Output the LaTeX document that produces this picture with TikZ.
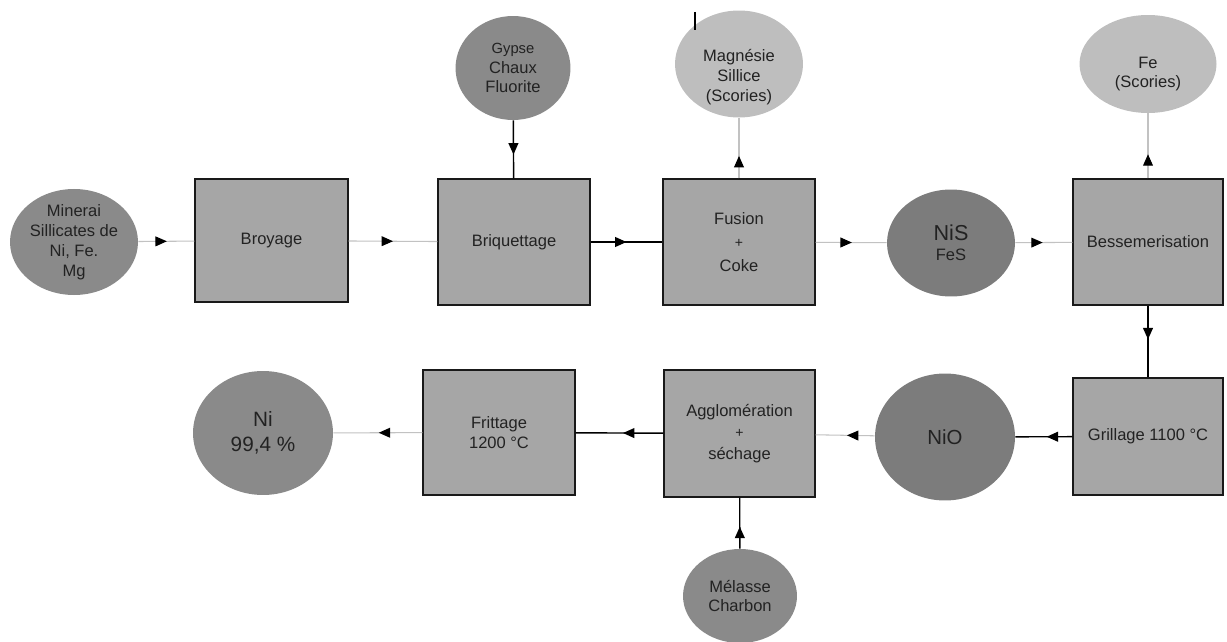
\documentclass[tikz,border=0pt]{standalone}
\usepackage{fontspec}
\setmainfont{Liberation Sans}
\usetikzlibrary{arrows.meta,decorations.markings,shapes.geometric}

\definecolor{boxfill}{HTML}{A6A6A6}
\definecolor{darkell}{HTML}{8A8A8A}
\definecolor{darkerell}{HTML}{7C7C7C}
\definecolor{lightell}{HTML}{BEBEBE}
\definecolor{thinline}{HTML}{C2C2C2}
\definecolor{ink}{HTML}{222222}

\begin{document}
\begin{tikzpicture}[x=0.02cm, y=-0.02cm,
  font=\fontsize{9.4}{11.3}\selectfont, text=ink,
  stage/.style={rectangle, draw=black!90, line width=0.8pt, fill=boxfill,
    inner sep=0pt, align=center},
  matter/.style={ellipse, fill=darkell, inner sep=0pt, align=center},
  plain/.style={inner sep=0pt, align=center},
  flow/.style={postaction={decorate}, decoration={markings,
    mark=at position #1 with {\arrow{Triangle[length=6.5pt,width=5.6pt,color=black]}}}},
  flow/.default=0.5,
  feed/.style={draw=black, line width=0.8pt},
  byway/.style={draw=thinline, line width=0.6pt}
]
\useasboundingbox (0,0) rectangle (1227,642);

% process stages
\node[stage, minimum width=3.06cm, minimum height=2.46cm] (broy) at (271.5,240.5) {Broyage};
\node[stage, minimum width=3.04cm, minimum height=2.52cm] (briq) at (514,242) {Briquettage};
\node[stage, minimum width=3.04cm, minimum height=2.52cm] (fus) at (739,242)
  {Fusion\\[2pt]{\fontsize{8}{9}\selectfont +}\\[2pt]Coke};
\node[stage, minimum width=3.0cm, minimum height=2.52cm] (bess) at (1148,242) {Bessemerisation};
\node[stage, minimum width=3.0cm, minimum height=2.34cm] (gril) at (1148,436.5) {Grillage 1100 °C};
\node[stage, minimum width=3.02cm, minimum height=2.54cm] (aggl) at (739.5,433.5)
  {Agglomération\\[1pt]{\fontsize{8}{9}\selectfont +}\\[1pt]séchage};
\node[stage, minimum width=3.04cm, minimum height=2.5cm] (frit) at (499,432.5) {Frittage\\1200 °C};

% materials in and out
\node[matter, minimum width=2.56cm, minimum height=2.06cm] (mine) at (74,242)
  {Minerai\\Sillicates de\\Ni, Fe.\\Mg};
\node[matter, minimum width=2.3cm, minimum height=2.08cm] (gyp) at (513,68)
  {{\fontsize{8.4}{9}\selectfont Gypse}\\Chaux\\Fluorite};
\node[matter, fill=lightell, minimum width=2.56cm, minimum height=2.14cm] (mag) at (739,64) {};
\node[plain] (magtxt) at (739,77) {Magnésie\\Sillice\\(Scories)};
\node[matter, fill=lightell, minimum width=2.74cm, minimum height=1.96cm] (fe) at (1148,64) {};
\node[plain] (fetxt) at (1148,74) {Fe\\(Scories)};
\node[matter, fill=darkerell, minimum width=2.56cm, minimum height=2.14cm] (nis) at (951,243)
  {{\fontsize{12.3}{13}\selectfont NiS}\\[0pt]FeS};
\node[matter, fill=darkerell, minimum width=2.8cm, minimum height=2.54cm,
  font=\fontsize{11.6}{13}\selectfont] (nio) at (945,437) {NiO};
\node[matter, minimum width=2.8cm, minimum height=2.48cm,
  font=\fontsize{11.8}{14}\selectfont] (ni) at (263,433) {Ni\\99,4 \%};
\node[matter, minimum width=2.28cm, minimum height=1.88cm] (mel) at (740,596)
  {Mélasse\\Charbon};

% connectors
\draw[byway, flow=0.51] (mine) -- (broy);
\draw[byway, flow=0.5] (broy) -- (briq);
\draw[feed, flow=0.5] (briq) -- (fus);
\draw[feed, flow=0.59] (gyp) -- (briq);
\draw[byway, flow=0.37] (fus) -- (mag);
\draw[byway, flow=0.51] (fus) -- (nis);
\draw[byway, flow=0.48] (nis) -- (bess);
\draw[byway, flow=0.37] (bess) -- (fe);
\draw[feed, flow=0.47] (bess) -- (gril);
\draw[feed, flow=0.45] (gril) -- (nio);
\draw[byway, flow=0.47] (nio) -- (aggl);
\draw[feed, flow=0.46] (aggl) -- (frit);
\draw[byway, flow=0.49] (frit) -- (ni);
\draw[feed, flow=0.43] (mel) -- (aggl);

% stray tick above the slag outlet
\coordinate (tickA) at (695,12);
\coordinate (tickB) at (695,30);
\draw[black, line width=0.7pt] (tickA) -- (tickB);
\end{tikzpicture}
\end{document}
